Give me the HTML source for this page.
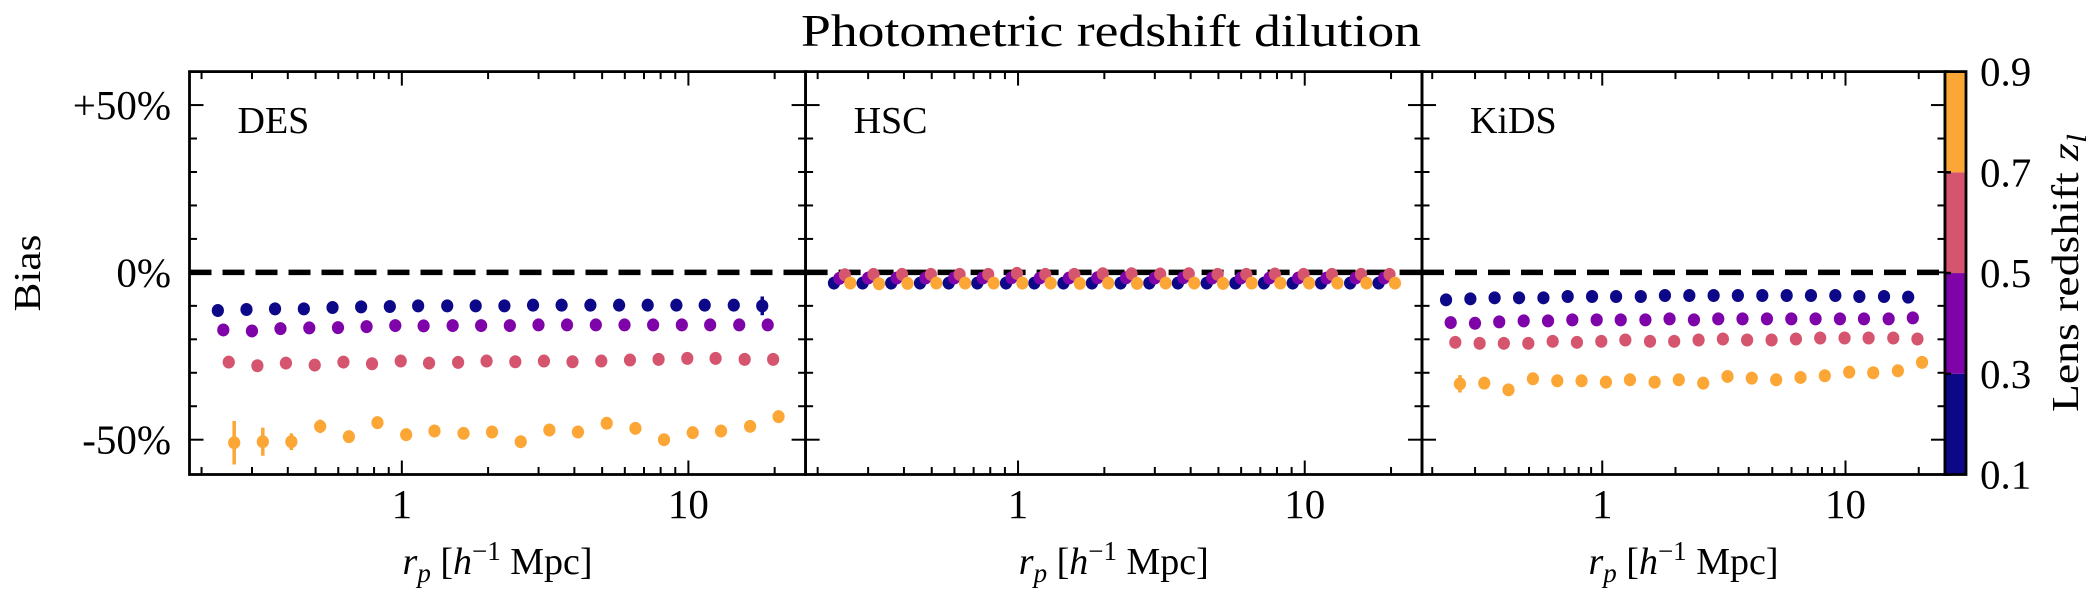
<!DOCTYPE html>
<html><head><meta charset="utf-8"><style>
html,body{margin:0;padding:0;background:#fff;}
svg{display:block;}
text{font-family:"Liberation Serif",serif;fill:#000;}
</style></head><body>
<svg id="fig" width="2100" height="600" viewBox="0 0 2100 600" xmlns="http://www.w3.org/2000/svg">
<text x="1111" y="46" font-size="46" text-anchor="middle" textLength="620" lengthAdjust="spacingAndGlyphs">Photometric redshift dilution</text>
<text transform="translate(40,273) rotate(-90)" font-size="38" text-anchor="middle" textLength="77" lengthAdjust="spacingAndGlyphs">Bias</text>
<text transform="translate(2078,273) rotate(-90)" font-size="38" text-anchor="middle" textLength="278" lengthAdjust="spacingAndGlyphs">Lens redshift <tspan font-style="italic">z</tspan><tspan font-style="italic" font-size="27" dy="8">l</tspan></text>
<g id="layer"></g>
</svg>
<script>
// ---- data ----
const rpBins = [0.228,0.287,0.361,0.455,0.573,0.721,0.908,1.14,1.44,1.81,2.28,2.87,3.61,4.55,5.73,7.21,9.08,11.4,14.4,18.1];
const zBinLabels = ['0.1','0.3','0.5','0.7','0.9'];
const surveys = ['DES','HSC','KiDS'];
const yTickLabels = ['+50%','0%','-50%'];
const yTickValues = [50,0,-50];
const xTickLabels = ['1','10'];
const xTickValues = [1,10];

const desZ1 = [-11.4,-11.1,-10.9,-10.9,-10.5,-10.3,-10.2,-10.0,-10.0,-10.0,-10.0,-9.8,-9.8,-9.8,-9.8,-9.8,-9.8,-9.8,-9.8,-10.0];
const desZ2 = [-17.2,-17.5,-16.8,-16.6,-16.5,-16.2,-15.9,-16.0,-15.9,-15.9,-15.9,-15.7,-15.7,-15.7,-15.7,-15.7,-15.7,-15.7,-15.7,-15.7];
const desZ3 = [-26.8,-27.9,-27.1,-27.7,-26.8,-27.3,-26.5,-27.1,-26.9,-26.5,-26.7,-26.5,-26.7,-26.5,-26.2,-26.0,-25.7,-25.7,-26.0,-26.0];
const desZ4 = [-50.9,-50.6,-50.6,-46.0,-49.1,-44.9,-48.5,-47.4,-48.1,-47.7,-50.6,-47.1,-47.7,-45.1,-46.6,-50.0,-47.9,-47.4,-46.0,-43.1];
const desZ1Err = [1,0.8,0.8,0.8,0.8,0.8,0.8,0.8,0.8,0.8,0.8,0.8,0.8,0.8,0.8,0.8,0.8,0.8,1.2,2.8];
const desZ4Err = [6.5,4.2,2.5,2.0,1.6,1.4,1.4,1.2,1.2,1.2,1.6,1.2,1.2,1.2,1.2,1.2,1.2,1.2,1.2,1.4];

const hscZ1 = [-3.2,-3.2,-3.2,-3.2,-3.2,-3.2,-3.2,-3.2,-3.2,-3.2,-3.2,-3.2,-3.2,-3.2,-3.2,-3.2,-3.2,-3.2,-3.2,-3.2];
const hscZ2 = [-1.8,-1.7,-1.7,-1.7,-1.7,-1.7,-1.6,-1.7,-1.7,-1.6,-1.6,-1.7,-1.6,-1.7,-1.7,-1.7,-1.7,-1.7,-1.7,-1.7];
const hscZ3 = [-0.7,-0.6,-0.6,-0.6,-0.6,-0.6,-0.3,-0.6,-0.6,-0.4,-0.4,-0.5,-0.4,-0.6,-0.6,-0.5,-0.6,-0.6,-0.6,-0.6];
const hscZ4 = [-3.2,-3.4,-3.3,-3.2,-3.2,-3.2,-3.2,-3.2,-3.3,-3.2,-3.3,-3.2,-3.2,-3.3,-3.2,-3.2,-3.2,-3.2,-3.2,-3.2];

const kidsZ1 = [-8.2,-7.9,-7.6,-7.6,-7.6,-7.2,-7.2,-7.2,-7.2,-6.9,-6.9,-6.9,-6.9,-6.9,-6.9,-6.9,-6.9,-7.2,-7.2,-7.4];
const kidsZ2 = [-15.0,-15.2,-14.8,-14.5,-14.5,-14.2,-14.2,-14.2,-14.2,-13.9,-14.2,-13.9,-13.9,-13.9,-13.9,-13.9,-13.9,-13.9,-13.9,-13.6];
const kidsZ3 = [-20.9,-21.2,-21.2,-21.2,-20.6,-20.9,-20.6,-20.2,-20.6,-20.6,-20.2,-19.9,-20.2,-20.2,-19.9,-19.6,-19.6,-19.6,-19.6,-19.9];
const kidsZ4 = [-33.3,-33.1,-35.1,-31.8,-32.4,-32.4,-32.8,-32.1,-32.8,-32.1,-33.1,-31.1,-31.6,-32.1,-31.4,-30.9,-29.8,-30.0,-29.4,-26.9];
const kidsZ4Err = [2.6,1.6,0.8,0.8,0.8,0.8,0.8,0.8,0.8,0.8,0.8,0.8,0.8,0.8,0.8,0.8,0.8,0.8,0.8,0.8];

// ---- layout ----
const NS='http://www.w3.org/2000/svg';
const layer=document.getElementById('layer');
const colors=['#0d0887','#7e03a8','#d5546e','#fca636'];
const dexOffsets=[0,0.019,0.038,0.057];
const Y0=71.6, Y1=474.5, YMIN=-60.4, YMAX=60;
const LMIN=-0.741, LMAX=1.409;
const panels=[
 {x0:189.5,x1:805.6,series:[desZ1,desZ2,desZ3,desZ4],errs:[desZ1Err,null,null,desZ4Err]},
 {x0:805.6,x1:1422,series:[hscZ1,hscZ2,hscZ3,hscZ4],errs:[null,null,null,null]},
 {x0:1422,x1:1945,series:[kidsZ1,kidsZ2,kidsZ3,kidsZ4],errs:[null,null,null,kidsZ4Err]}
];
function yS(v){return Y0+(YMAX-v)/(YMAX-YMIN)*(Y1-Y0);}
function xS(p,logv){return p.x0+(logv-LMIN)/(LMAX-LMIN)*(p.x1-p.x0);}
function mk(tag,attrs,parent){const e=document.createElementNS(NS,tag);for(const k in attrs)e.setAttribute(k,attrs[k]);(parent||layer).appendChild(e);return e;}

panels.forEach((p,pi)=>{
  const g=mk('g',{});
  
  
  const zl=mk('line',{x1:p.x0,x2:p.x1,y1:yS(0),y2:yS(0),stroke:'#000','stroke-width':5.5,'stroke-dasharray':'22 11'},g);
  
  
  p.series.forEach((vals,si)=>{
    const sg=mk('g',{fill:colors[si],stroke:colors[si]},g);
    
    
    vals.forEach((v,i)=>{
      const x=xS(p,Math.log10(rpBins[i])+dexOffsets[si]);
      const e=p.errs[si]?p.errs[si][i]:0;
      if(e>0){
        const eb=mk('line',{x1:x,x2:x,y1:yS(v+e),y2:yS(v-e),'stroke-width':3.5},sg);
        
        
      }
      const c=mk('ellipse',{cx:x,cy:yS(v),rx:6.1,ry:6.5,stroke:'none'},sg);
      
      
    });
  });
  const tg=mk('g',{stroke:'#000','stroke-width':2},g);
  
  
  const minors=[0.2,0.3,0.4,0.5,0.6,0.7,0.8,0.9,2,3,4,5,6,7,8,9,20];
  minors.forEach(m=>{const x=xS(p,Math.log10(m));
    mk('line',{x1:x,x2:x,y1:Y0,y2:Y0+7.5},tg);mk('line',{x1:x,x2:x,y1:Y1,y2:Y1-7.5},tg);});
  xTickValues.forEach((m,i)=>{const x=xS(p,Math.log10(m));
    mk('line',{x1:x,x2:x,y1:Y0,y2:Y0+14},tg);mk('line',{x1:x,x2:x,y1:Y1,y2:Y1-14},tg);
    const t=mk('text',{x:x,y:518,'font-size':41,'text-anchor':'middle'},g);t.textContent=xTickLabels[i];
    
    
  });
  for(let v=-50;v<=50;v+=10){
    const y=yS(v);const L=(v%50===0)?14:7.5;
    mk('line',{x1:p.x0,x2:p.x0+L,y1:y,y2:y},tg);mk('line',{x1:p.x1,x2:p.x1-L,y1:y,y2:y},tg);
  }
  const fr=mk('rect',{x:p.x0,y:Y0,width:p.x1-p.x0,height:Y1-Y0,fill:'none',stroke:'#000','stroke-width':2.8},g);
  
  
  const sl=mk('text',{x:p.x0+48,y:133,'font-size':38},g);sl.textContent=surveys[pi];
  
  
  const xl=mk('text',{x:(p.x0+p.x1)/2,y:574,'font-size':38,'text-anchor':'middle'},g);
  xl.innerHTML='<tspan font-style="italic">r</tspan><tspan font-style="italic" font-size="27" dy="8">p</tspan><tspan dy="-8"> [</tspan><tspan font-style="italic">h</tspan><tspan font-size="27" dy="-14">−1</tspan><tspan dy="14"> Mpc]</tspan>';
  
  
});
yTickValues.forEach((v,i)=>{
  const t=mk('text',{x:171,y:yS(v)+14,'font-size':41,'text-anchor':'end'});t.textContent=yTickLabels[i];
  
  
});
const CB0=1945, CB1=1966;
const cg=mk('g',{});


const nb=zBinLabels.length-1;
for(let i=0;i<nb;i++){
  const ya=Y1-(i+1)*(Y1-Y0)/nb, yb=Y1-i*(Y1-Y0)/nb;
  const r=mk('rect',{x:CB0,y:ya,width:CB1-CB0,height:yb-ya,fill:colors[i]},cg);
  
  
}
zBinLabels.forEach((lab,i)=>{
  const y=Y1-i*(Y1-Y0)/nb;
  mk('line',{x1:CB0,x2:CB0+6,y1:y,y2:y,stroke:'#000','stroke-width':2.5},cg);
  const t=mk('text',{x:1980,y:y+14,'font-size':41},cg);t.textContent=lab;
  
  
});
mk('rect',{x:CB0,y:Y0,width:CB1-CB0,height:Y1-Y0,fill:'none',stroke:'#000','stroke-width':2.8},cg);
</script>
</body></html>
